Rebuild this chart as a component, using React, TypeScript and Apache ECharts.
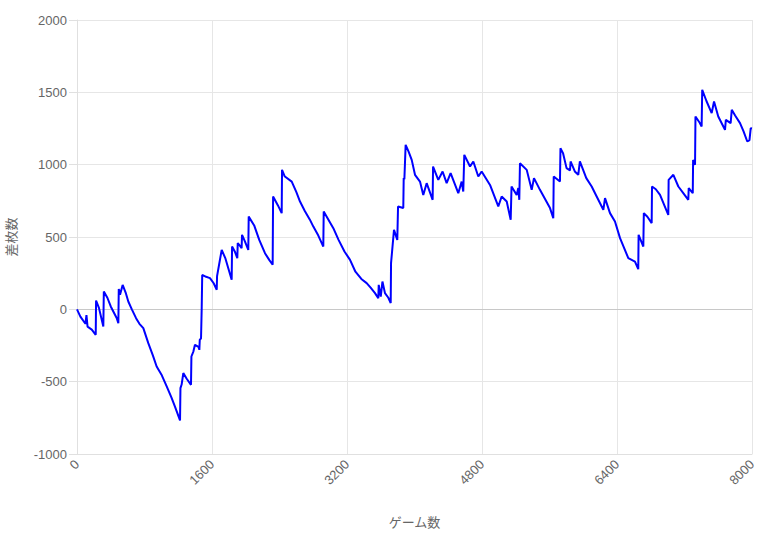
import React, { useEffect, useRef } from "react";
import * as echarts from "echarts";

const games: number[] = [
  0, 40, 100, 112, 125, 175, 222, 226, 260, 312, 318, 360, 400, 470, 490, 495, 510, 541, 580, 608,
  650, 700, 740, 786, 845, 900, 944, 1000, 1063, 1120, 1161, 1221, 1226, 1240, 1260, 1300, 1351, 1356, 1380, 1398,
  1440, 1450, 1455, 1470, 1478, 1484, 1530, 1576, 1620, 1656, 1660, 1715, 1760, 1833, 1838, 1870, 1900, 1905, 1930, 1951,
  1956, 1990, 2030, 2035, 2100, 2160, 2228, 2280, 2319, 2324, 2380, 2426, 2430, 2460, 2545, 2600, 2643, 2700, 2760, 2801,
  2860, 2919, 2924, 2980, 3038, 3100, 3170, 3236, 3300, 3370, 3433, 3480, 3532, 3571, 3576, 3600, 3620, 3650, 3690, 3718,
  3722, 3757, 3796, 3805, 3867, 3872, 3880, 3895, 3930, 3967, 4006, 4065, 4104, 4144, 4215, 4220, 4282, 4333, 4381, 4428,
  4519, 4559, 4578, 4590, 4658, 4697, 4756, 4796, 4895, 4993, 5033, 5093, 5140, 5150, 5211, 5230, 5242, 5250, 5330, 5389,
  5416, 5487, 5606, 5645, 5650, 5724, 5730, 5760, 5802, 5843, 5850, 5900, 5941, 5960, 6036, 6100, 6159, 6238, 6258, 6317,
  6376, 6436, 6534, 6613, 6652, 6656, 6712, 6718, 6760, 6811, 6815, 6860, 6910, 6960, 7008, 7012, 7068, 7127, 7190, 7245,
  7250, 7298, 7302, 7325, 7330, 7380, 7403, 7410, 7460, 7522, 7550, 7600, 7680, 7690, 7747, 7760, 7800, 7858, 7900, 7944,
  7970, 7985, 8000,
];

const diffs: number[] = [
  0, -50, -100, -40, -120, -140, -176, 61, 10, -119, 123, 80, 20, -60, -96, 140, 100, 169, 110, 54,
  0, -61, -100, -130, -234, -320, -395, -450, -533, -610, -672, -768, -545, -520, -441, -480, -522, -326, -290, -245,
  -260, -280, -211, -200, 8, 238, 225, 216, 180, 135, 230, 411, 350, 204, 434, 400, 354, 458, 440, 423,
  515, 470, 411, 641, 580, 480, 388, 340, 308, 780, 720, 665, 964, 920, 883, 810, 745, 680, 620, 572,
  510, 434, 676, 620, 561, 480, 400, 342, 260, 210, 181, 150, 112, 77, 169, 88, 192, 112, 80, 43,
  319, 550, 480, 711, 700, 907, 900, 1137, 1090, 1033, 930, 883, 791, 872, 757, 987, 895, 953, 872, 941,
  803, 883, 814, 1068, 987, 1022, 918, 953, 860, 711, 780, 745, 619, 849, 791, 838, 757, 1010, 964, 826,
  907, 826, 700, 630, 918, 883, 1114, 1080, 976, 960, 1022, 953, 930, 1022, 907, 849, 780, 688, 769, 665,
  607, 492, 354, 330, 278, 515, 434, 665, 640, 596, 849, 830, 791, 720, 653, 895, 930, 849, 800, 757,
  838, 803, 1033, 999, 1333, 1290, 1264, 1517, 1440, 1356, 1437, 1333, 1241, 1310, 1287, 1379, 1340, 1287, 1230, 1160,
  1170, 1252, 1250,
];

const xTicks = { min: 0, max: 8000, interval: 1600 };
const yTicks = { min: -1000, max: 2000, interval: 500 };

const FONT = "'Liberation Sans', Arial, 'Noto Sans CJK JP', sans-serif";

export default function App() {
  const ref = useRef<HTMLDivElement>(null);
  useEffect(() => {
    if (!ref.current) return;
    const chart = echarts.init(ref.current, undefined, { renderer: "svg" });
    const data = games.map((g, i) => [g, diffs[i]]);
    chart.setOption({
      animation: false,
      textStyle: { fontFamily: FONT },
      grid: { left: 77, right: 14, top: 20, bottom: 87, containLabel: false, outerBoundsMode: "none" },
      xAxis: {
        type: "value",
        min: xTicks.min,
        max: xTicks.max,
        interval: xTicks.interval,
        name: "ゲーム数",
        nameLocation: "middle",
        nameGap: 62,
        nameTextStyle: { color: "#666", fontSize: 13, fontFamily: FONT },
        axisLine: { show: true, onZero: false, lineStyle: { color: "#e0e0e0" } },
        axisTick: { show: false },
        axisLabel: {
          color: "#666",
          fontSize: 13,
          rotate: 45,
          margin: 8,
          fontFamily: FONT,
          formatter: (v: number) => String(v),
        },
        splitLine: { show: true, lineStyle: { color: "#e6e6e6" } },
      },
      yAxis: {
        type: "value",
        min: yTicks.min,
        max: yTicks.max,
        interval: yTicks.interval,
        name: "差枚数",
        nameLocation: "middle",
        nameGap: 59,
        nameTextStyle: { color: "#666", fontSize: 13, fontFamily: FONT },
        axisLine: { show: true, lineStyle: { color: "#e0e0e0" } },
        axisTick: { show: true, length: 8, lineStyle: { color: "#e0e0e0" } },
        axisLabel: {
          color: "#666",
          fontSize: 13,
          margin: 10,
          fontFamily: FONT,
          formatter: (v: number) => String(v),
        },
        splitLine: { show: true, lineStyle: { color: "#e6e6e6" } },
      },
      series: [
        {
          type: "line",
          data,
          showSymbol: false,
          symbol: "none",
          lineStyle: { color: "#0000ff", width: 2 },
          itemStyle: { color: "#0000ff" },
          markLine: {
            silent: true,
            symbol: "none",
            label: { show: false },
            lineStyle: { color: "#c8c8c8", type: "solid", width: 1 },
            data: [{ yAxis: 0 }],
            z: 1,
          },
        },
      ],
    });
    return () => chart.dispose();
  }, []);
  return (
    <div
      ref={ref}
      style={{ position: "fixed", left: 0, top: 0, width: 766, height: 541, background: "#fff" }}
    />
  );
}
